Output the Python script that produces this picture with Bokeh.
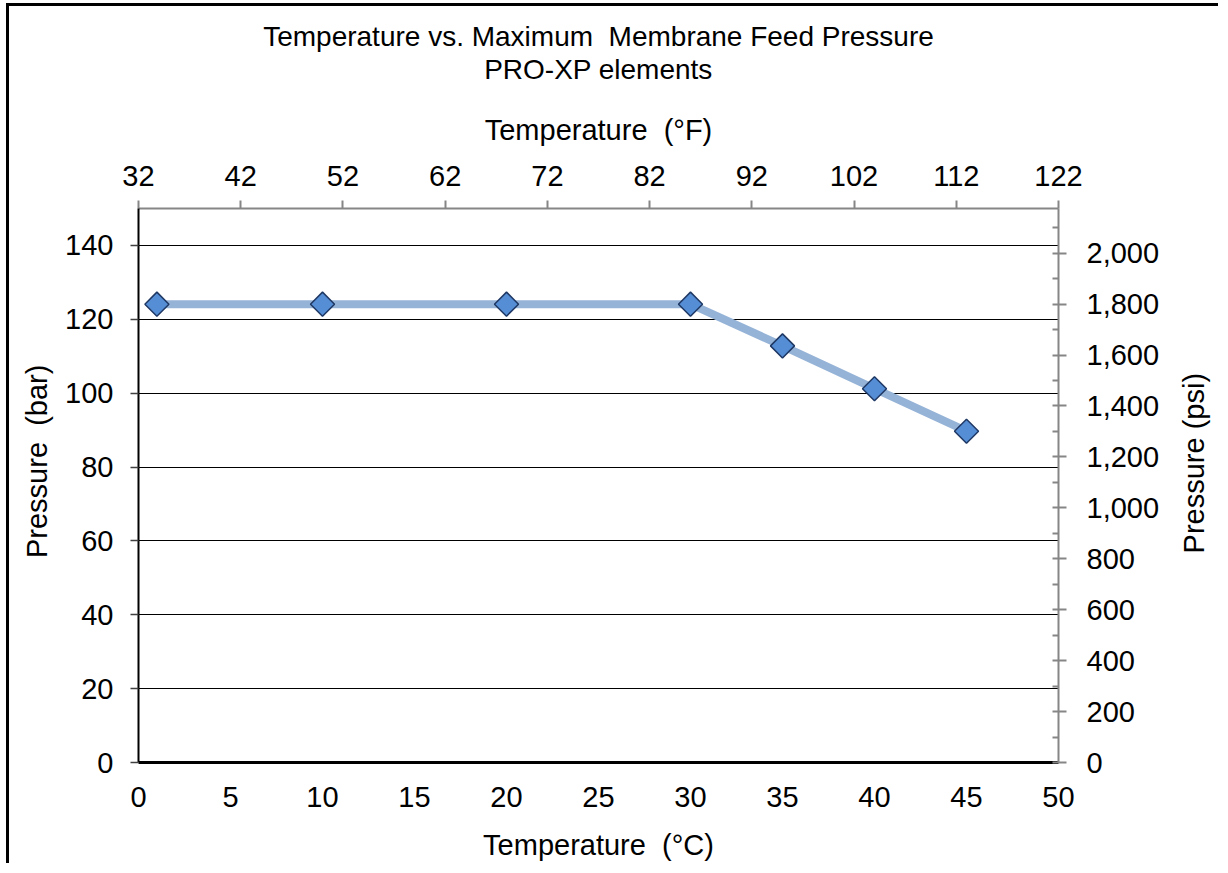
import math
from bokeh.plotting import figure
from bokeh.layouts import row
from bokeh.models import LinearAxis, Range1d, FixedTicker, Title, NumeralTickFormatter
from bokeh.core.properties import value
from bokeh.embed import file_html
from bokeh.resources import INLINE

# ---- data ----
temp_c = [1, 10, 20, 30, 35, 40, 45]
pressure_bar = [124.1, 124.1, 124.1, 124.1, 112.8, 101.2, 89.7]
PSI_PER_BAR = 14.5038

c_ticks = [0, 5, 10, 15, 20, 25, 30, 35, 40, 45, 50]
f_ticks = [32, 42, 52, 62, 72, 82, 92, 102, 112, 122]
bar_ticks = [0, 20, 40, 60, 80, 100, 120, 140]
psi_ticks = [0, 200, 400, 600, 800, 1000, 1200, 1400, 1600, 1800, 2000]
psi_minor = [100, 300, 500, 700, 900, 1100, 1300, 1500, 1700, 1900, 2100]

title1 = "Temperature vs. Maximum\u00a0 Membrane Feed Pressure"
title2 = "PRO-XP elements"
label_c = "Temperature\u00a0 (°C)"
label_f = "Temperature\u00a0 (°F)"
label_bar = "Pressure\u00a0 (bar)"
label_psi = "Pressure (psi)"

NB = "\u00a0"
FONT = "Liberation Sans"
FS = "29px"
TFS = "28px"
GRAY = "#868686"

H = 857
p = figure(width=1159, height=H, x_range=Range1d(0, 50), y_range=Range1d(0, 150),
           output_backend="svg", toolbar_location=None, title=None,
           min_border_left=129, min_border_right=110, min_border_top=202, min_border_bottom=100)
p.extra_x_ranges = {"F": Range1d(32, 122)}
p.extra_y_ranges = {"psi": Range1d(0, 150 * PSI_PER_BAR)}
p.outline_line_color = None
p.background_fill_color = "white"
p.border_fill_color = "white"

def style_axis(ax):
    ax.major_label_text_font = FONT
    ax.major_label_text_font_size = FS
    ax.major_label_text_color = "black"
    ax.axis_label_text_font = FONT
    ax.axis_label_text_font_size = FS
    ax.axis_label_text_font_style = "normal"
    ax.axis_label_text_color = "black"

# bottom axis (°C)
xa = p.xaxis[0]
style_axis(xa)
xa.ticker = FixedTicker(ticks=c_ticks)
xa.axis_label = label_c
xa.axis_line_color = "black"
xa.axis_line_width = 3
xa.major_tick_out = 0
xa.major_tick_in = 0
xa.minor_tick_out = 0
xa.minor_tick_in = 0
xa.major_label_standoff = 24
xa.axis_label_standoff = 19

# left axis (bar)
ya = p.yaxis[0]
style_axis(ya)
ya.ticker = FixedTicker(ticks=bar_ticks)
ya.axis_label = NB * 6 + label_bar
ya.axis_line_color = "black"
ya.axis_line_width = 2
ya.major_tick_line_color = "#404040"
ya.major_tick_line_width = 1.5
ya.major_tick_out = 8
ya.major_tick_in = 0
ya.minor_tick_out = 0
ya.minor_tick_in = 0
ya.major_label_standoff = 17
ya.axis_label_standoff = 9

# top axis (°F)
ta = LinearAxis(x_range_name="F", ticker=FixedTicker(ticks=f_ticks))
style_axis(ta)
ta.axis_label = label_f
ta.axis_line_color = GRAY
ta.axis_line_width = 2
ta.major_tick_line_color = GRAY
ta.major_tick_line_width = 2
ta.major_tick_out = 8
ta.major_tick_in = 0
ta.minor_tick_out = 0
ta.minor_tick_in = 0
ta.major_label_standoff = 15
ta.axis_label_standoff = 17
p.add_layout(ta, "above")

# right axis (psi)
ra = LinearAxis(y_range_name="psi", ticker=FixedTicker(ticks=psi_ticks, minor_ticks=psi_minor),
                formatter=NumeralTickFormatter(format="0,0"))
style_axis(ra)
ra.axis_line_color = GRAY
ra.axis_line_width = 2
ra.major_tick_line_color = GRAY
ra.major_tick_line_width = 2
ra.minor_tick_line_color = GRAY
ra.minor_tick_line_width = 2
ra.major_tick_out = 8
ra.major_tick_in = 6
ra.minor_tick_out = 0
ra.minor_tick_in = 6
ra.major_label_standoff = 20
p.add_layout(ra, "right")

# titles: spacer, line 2, line 1 (stacked outward from the frame)
spacer = Title(text=" ", text_font_size="2px", standoff=22)
t2 = Title(text=title2, align="center", text_font=FONT, text_font_size=TFS,
           text_font_style="normal", text_color="black", standoff=0)
t1 = Title(text=title1, align="center", text_font=FONT, text_font_size=TFS,
           text_font_style="normal", text_color="black", standoff=0)
p.add_layout(spacer, "above")
p.add_layout(t2, "above")
p.add_layout(t1, "above")

# grid
p.xgrid.visible = False
p.ygrid.grid_line_color = "black"
p.ygrid.grid_line_width = 1
p.ygrid.ticker = FixedTicker(ticks=bar_ticks[1:])

# data
p.line(temp_c, pressure_bar, line_color="#95B3D7", line_width=8)
p.scatter(temp_c, pressure_bar, marker="square", size=17, angle=math.pi / 4,
          fill_color="#558ED5", line_color="#1F3864", line_width=1.5)

# narrow strip on the right holding the psi axis title (reads bottom-to-top)
p2 = figure(width=50, height=H, x_range=Range1d(0, 1), y_range=Range1d(0, H),
            output_backend="svg", toolbar_location=None, title=None,
            x_axis_type=None, y_axis_type=None, min_border=0)
p2.xgrid.visible = False
p2.ygrid.visible = False
p2.outline_line_color = None
p2.background_fill_color = "white"
p2.border_fill_color = "white"
p2.text(x=[0.5], y=[H - 394], text=[label_psi], angle=math.pi / 2,
        text_align="center", text_baseline="middle",
        text_font=value(FONT), text_font_size=value(FS), text_color="black")

layout = row(p, p2, spacing=0)
layout.styles = {"margin-left": "6px", "margin-top": "3px",
                 "border-top": "3px solid black", "border-left": "3px solid black"}

open("out.html", "w").write(file_html(layout, INLINE))
